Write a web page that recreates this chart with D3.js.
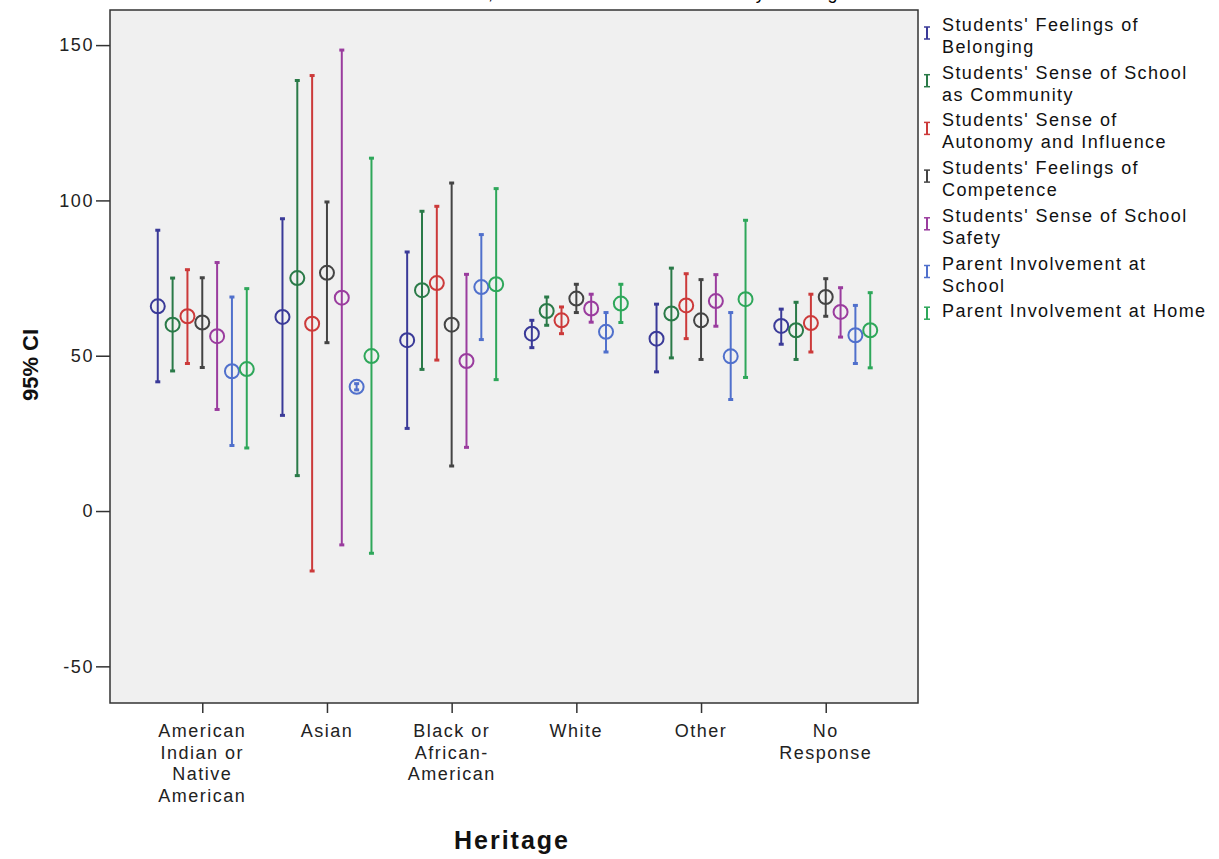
<!DOCTYPE html>
<html>
<head>
<meta charset="utf-8">
<script src="https://cdn.jsdelivr.net/npm/d3@7"></script>
<style>
  html, body { margin: 0; padding: 0; background: #ffffff; }
  svg { display: block; font-family: Arial, "Liberation Sans", sans-serif; }
</style>
</head>
<body>
<svg id="chart" width="1219" height="859"></svg>
<script>
// Heritage groups on the x axis
const categories = ["American Indian or Native American", "Asian", "Black or African-American", "White", "Other", "No Response"];
const categoryLines = [["American", "Indian or", "Native", "American"], ["Asian"], ["Black or", "African-", "American"], ["White"], ["Other"], ["No", "Response"]];

// Survey scales (one error bar per scale in each group)
const seriesNames = [
  "Students' Feelings of Belonging",
  "Students' Sense of School as Community",
  "Students' Sense of Autonomy and Influence",
  "Students' Feelings of Competence",
  "Students' Sense of School Safety",
  "Parent Involvement at School",
  "Parent Involvement at Home"
];
const legendLines = [
  ["Students' Feelings of", "Belonging"],
  ["Students' Sense of School", "as Community"],
  ["Students' Sense of", "Autonomy and Influence"],
  ["Students' Feelings of", "Competence"],
  ["Students' Sense of School", "Safety"],
  ["Parent Involvement at", "School"],
  ["Parent Involvement at Home"]
];
const seriesColors = ["#3a3a98", "#2a7a48", "#cc3a3a", "#444444", "#9a3c9e", "#5070cc", "#2ea75a"];

// Means and 95% confidence limits, one row per scale, one column per heritage group
const means = [
  [65.9, 62.5, 55.0, 57.1, 55.5, 59.6],
  [60.0, 75.0, 71.1, 64.4, 63.6, 58.2],
  [62.7, 60.3, 73.4, 61.4, 66.2, 60.5],
  [60.7, 76.7, 60.0, 68.4, 61.4, 68.9],
  [56.3, 68.7, 48.3, 65.2, 67.6, 64.1],
  [45.0, 40.0, 72.1, 57.7, 49.8, 56.6],
  [45.7, 49.9, 73.0, 66.8, 68.2, 58.2]
];
const upper = [
  [90.4, 94.1, 83.4, 61.4, 66.6, 65.0],
  [75.0, 138.6, 96.5, 68.9, 78.2, 67.2],
  [77.7, 140.2, 98.1, 65.7, 76.4, 69.8],
  [75.1, 99.5, 105.6, 73.0, 74.5, 74.8],
  [80.0, 148.4, 76.2, 69.8, 76.1, 71.9],
  [68.9, 41.0, 89.0, 63.9, 63.9, 66.2],
  [71.6, 113.6, 103.8, 73.0, 93.6, 70.3]
];
const lower = [
  [41.6, 30.8, 26.6, 52.6, 44.8, 53.7],
  [45.1, 11.4, 45.6, 59.8, 49.3, 48.8],
  [47.5, -19.3, 48.6, 57.1, 55.5, 51.2],
  [46.2, 54.2, 14.5, 63.9, 48.8, 62.7],
  [32.7, -10.9, 20.5, 60.8, 59.5, 56.0],
  [21.1, 39.0, 55.2, 51.2, 35.9, 47.5],
  [20.3, -13.6, 42.3, 60.7, 43.0, 46.1]
];
const yTicks = [-50, 0, 50, 100, 150];

const svg = d3.select("#chart");
const plot = { left: 110, right: 918, top: 10, bottom: 703 };

const x = d3.scalePoint()
  .domain(categories)
  .range([plot.left, plot.right])
  .padding(0.74);

const offset = d3.scalePoint()
  .domain(seriesNames)
  .range([-44.5, 44.5]);

const y = d3.scaleLinear()
  .domain([-61.8, 161.3])
  .range([plot.bottom, plot.top]);

// Title (runs off the top edge of the page)
svg.append("text")
  .attr("x", 300)
  .attr("y", -1)
  .attr("font-size", 18)
  .attr("letter-spacing", 1.2)
  .attr("fill", "#000")
  .text("Confidence Intervals, School Climate Subscales by Heritage");

// Plot background and frame
svg.append("rect")
  .attr("x", plot.left).attr("y", plot.top)
  .attr("width", plot.right - plot.left).attr("height", plot.bottom - plot.top)
  .attr("fill", "#f0f0f0")
  .attr("stroke", "#333")
  .attr("stroke-width", 1.5);

// Y axis (plain hyphen for negative numbers)
const yAxis = d3.axisLeft(y).tickValues(yTicks).tickSize(14).tickPadding(2).tickFormat(d => String(d));
const gy = svg.append("g").attr("transform", `translate(${plot.left},0)`).call(yAxis);
gy.select(".domain").remove();
gy.selectAll(".tick line").attr("stroke", "#333").attr("stroke-width", 1.5);
gy.selectAll(".tick text").attr("font-size", 18).attr("fill", "#222")
  .attr("letter-spacing", 1.6)
  .attr("font-family", "Arial, 'Liberation Sans', sans-serif");

// X axis
const xAxis = d3.axisBottom(x).tickSize(10).tickFormat("");
const gx = svg.append("g").attr("transform", `translate(0,${plot.bottom})`).call(xAxis);
gx.select(".domain").remove();
gx.selectAll(".tick line").attr("stroke", "#333").attr("stroke-width", 1.5);

// Multi-line category labels
categories.forEach((c, i) => {
  const t = svg.append("text")
    .attr("x", x(c))
    .attr("y", 737)
    .attr("text-anchor", "middle")
    .attr("font-size", 18)
    .attr("letter-spacing", 1.5)
    .attr("fill", "#222");
  categoryLines[i].forEach((line, j) => {
    t.append("tspan").attr("x", x(c)).attr("dy", j === 0 ? 0 : 21.5).text(line);
  });
});

// Axis titles
svg.append("text")
  .attr("transform", "translate(38,365) rotate(-90)")
  .attr("text-anchor", "middle")
  .attr("font-size", 22)
  .attr("font-weight", "bold")
  .attr("fill", "#111")
  .text("95% CI");

svg.append("text")
  .attr("x", 512)
  .attr("y", 849)
  .attr("text-anchor", "middle")
  .attr("font-size", 25)
  .attr("letter-spacing", 2)
  .attr("font-weight", "bold")
  .attr("fill", "#111")
  .text("Heritage");

// Error bars with mean markers
const points = [];
seriesNames.forEach((s, si) => {
  categories.forEach((c, ci) => {
    points.push({ s, si, c, mean: means[si][ci], hi: upper[si][ci], lo: lower[si][ci] });
  });
});

const bars = svg.append("g").selectAll("g").data(points).join("g")
  .attr("transform", d => `translate(${x(d.c) + offset(d.s)},0)`);

bars.append("line")
  .attr("x1", 0).attr("x2", 0)
  .attr("y1", d => y(d.hi)).attr("y2", d => y(d.lo))
  .attr("stroke", d => seriesColors[d.si])
  .attr("stroke-width", 2);

bars.selectAll(".cap").data(d => [d.hi, d.lo].map(v => ({ v, si: d.si }))).join("line")
  .attr("class", "cap")
  .attr("x1", -2.5).attr("x2", 2.5)
  .attr("y1", d => y(d.v)).attr("y2", d => y(d.v))
  .attr("stroke", d => seriesColors[d.si])
  .attr("stroke-width", 3);

bars.append("circle")
  .attr("cx", 0)
  .attr("cy", d => y(d.mean))
  .attr("r", 7)
  .attr("fill", "none")
  .attr("stroke", d => seriesColors[d.si])
  .attr("stroke-width", 2);

// Legend
const legend = svg.append("g");
legendLines.forEach((lines, i) => {
  const top = 25 + i * 47.7;
  const g = legend.append("g").attr("transform", `translate(0,${top})`);
  const iconY = lines.length > 1 ? 8 : 2;
  g.append("line").attr("x1", 927).attr("x2", 927).attr("y1", iconY - 6).attr("y2", iconY + 6)
    .attr("stroke", seriesColors[i]).attr("stroke-width", 2);
  [iconY - 6, iconY + 6].forEach(yy => {
    g.append("line").attr("x1", 924).attr("x2", 930).attr("y1", yy).attr("y2", yy)
      .attr("stroke", seriesColors[i]).attr("stroke-width", 1.5);
  });
  const t = g.append("text")
    .attr("x", 942).attr("y", 6)
    .attr("font-size", 18)
    .attr("letter-spacing", 1.4)
    .attr("fill", "#111");
  lines.forEach((line, j) => {
    t.append("tspan").attr("x", 942).attr("dy", j === 0 ? 0 : 22).text(line);
  });
});
</script>
</body>
</html>
